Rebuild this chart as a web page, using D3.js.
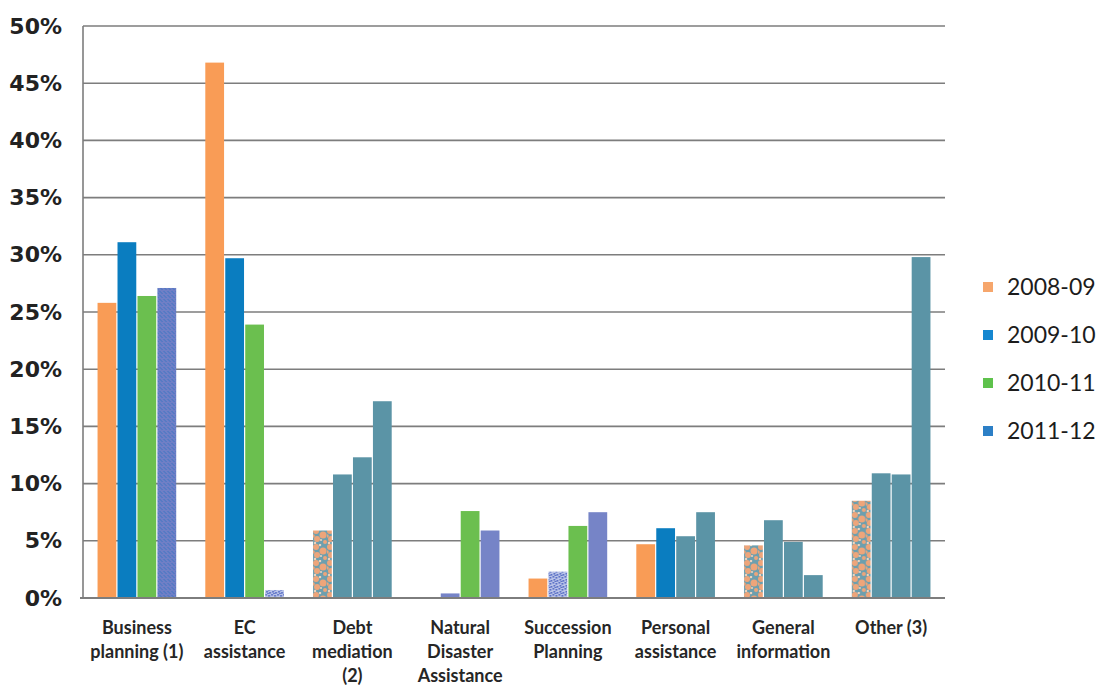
<!DOCTYPE html>
<html>
<head>
<meta charset="utf-8">
<script src="https://cdn.jsdelivr.net/npm/d3@7"></script>
<style>
  html, body { margin: 0; padding: 0; background: #fff; }
  svg { display: block; }
</style>
</head>
<body>
<svg id="chart" width="1108" height="689"></svg>
<script>
// Share of requests by service type, per financial year
const categories = [
  "Business planning (1)", "EC assistance", "Debt mediation (2)",
  "Natural Disaster Assistance", "Succession Planning",
  "Personal assistance", "General information", "Other (3)"
];
const categoryLines = [
  ["Business", "planning (1)"], ["EC", "assistance"], ["Debt", "mediation", "(2)"],
  ["Natural", "Disaster", "Assistance"], ["Succession", "Planning"],
  ["Personal", "assistance"], ["General", "information"], ["Other (3)"]
];
const seriesNames = ["2008-09", "2009-10", "2010-11", "2011-12"];

// values in percent, one array per year, in category order
const v2008 = [25.8, 46.8, 5.9, 0.0, 1.7, 4.7, 4.6, 8.5];
const v2009 = [31.1, 29.7, 10.8, 0.4, 2.3, 6.1, 6.8, 10.9];
const v2010 = [26.4, 23.9, 12.3, 7.6, 6.3, 5.4, 4.9, 10.8];
const v2011 = [27.1, 0.7, 17.2, 5.9, 7.5, 7.5, 2.0, 29.8];

const yTicks = [0, 5, 10, 15, 20, 25, 30, 35, 40, 45, 50];

// fill styles
const ORANGE = "#f99c56", BLUE = "#0a7dc0", GREEN = "#6bbf4f",
      PURPLE = "#7684c7", TEAL = "#5b94a6";
const legendFills = ["#f6a66c", "#1587d0", "#5ec24c", "#2c7fc6"];
const barFills = [
  [ORANGE, BLUE, GREEN, "url(#grainPurple)"],
  [ORANGE, BLUE, GREEN, "url(#speckBlue)"],
  ["url(#speckOrange)", TEAL, TEAL, TEAL],
  [ORANGE, PURPLE, GREEN, PURPLE],
  [ORANGE, "url(#speckBlue)", GREEN, PURPLE],
  [ORANGE, BLUE, TEAL, TEAL],
  ["url(#speckOrange)", TEAL, TEAL, TEAL],
  ["url(#speckOrange)", TEAL, TEAL, TEAL]
];

const svg = d3.select("#chart");
const margin = { left: 83, right: 163, top: 26, bottom: 91 };
const W = 1108, H = 689;
const x0 = margin.left, x1 = W - margin.right;
const yTop = margin.top, yBase = H - margin.bottom;

const x = d3.scaleBand().domain(categories).range([x0, x1])
  .paddingInner(0.27).paddingOuter(0.135);
const xs = d3.scaleBand().domain(seriesNames).range([0, x.bandwidth()])
  .paddingInner(0.06);
const y = d3.scaleLinear().domain([0, 50]).range([yBase, yTop]);

// patterns for the speckled bars
const defs = svg.append("defs");
const so = defs.append("pattern").attr("id", "speckOrange")
  .attr("patternUnits", "userSpaceOnUse").attr("width", 14).attr("height", 16);
so.append("rect").attr("width", 14).attr("height", 16).attr("fill", "#6d9fae");
[[3, 3, 3], [10, 7, 3.5], [4, 11, 3], [12, 14, 2], [0, 8, 1.8]].forEach(([cx, cy, r]) =>
  so.append("circle").attr("cx", cx).attr("cy", cy).attr("r", r).attr("fill", "#eea57a"));
[[7, 1, 1.2], [2, 15, 1.2], [8, 12, 1]].forEach(([cx, cy, r]) =>
  so.append("circle").attr("cx", cx).attr("cy", cy).attr("r", r).attr("fill", "#f3d6bf"));

const sb = defs.append("pattern").attr("id", "speckBlue")
  .attr("patternUnits", "userSpaceOnUse").attr("width", 6).attr("height", 6);
sb.append("rect").attr("width", 6).attr("height", 6).attr("fill", "#b9c3e8");
[[0, 0], [3, 1], [1, 3], [4, 4], [2, 5]].forEach(([a, b]) =>
  sb.append("rect").attr("x", a).attr("y", b).attr("width", 1.6).attr("height", 1.6).attr("fill", "#4a62c0"));

const gp = defs.append("pattern").attr("id", "grainPurple")
  .attr("patternUnits", "userSpaceOnUse").attr("width", 4).attr("height", 4);
gp.append("rect").attr("width", 4).attr("height", 4).attr("fill", "#6f7fc6");
[[0, 1], [2, 3], [3, 0]].forEach(([a, b]) =>
  gp.append("rect").attr("x", a).attr("y", b).attr("width", 1).attr("height", 1).attr("fill", "#3f76c2"));

// gridlines
svg.append("g").selectAll("line").data(yTicks.filter(t => t > 0)).join("line")
  .attr("x1", x0).attr("x2", x1)
  .attr("y1", d => y(d)).attr("y2", d => y(d))
  .attr("stroke", "#7d7d7d").attr("stroke-width", 1.6);

// y axis labels
const yAxis = d3.axisLeft(y).tickValues(yTicks).tickSize(0).tickPadding(21)
  .tickFormat(d => d + "%");
const gy = svg.append("g").attr("transform", `translate(${x0},0)`).call(yAxis);
gy.select(".domain").remove();
gy.selectAll("text")
  .attr("font-family", "DejaVu Sans, sans-serif")
  .attr("font-size", 22).attr("font-weight", "bold").attr("fill", "#222");

// bars
const rows = categories.map((c, i) => ({
  cat: c, i,
  vals: [v2008[i], v2009[i], v2010[i], v2011[i]]
}));
const groups = svg.append("g").selectAll("g").data(rows).join("g")
  .attr("transform", d => `translate(${x(d.cat)},0)`);
groups.selectAll("rect")
  .data(d => d.vals.map((v, j) => ({ v, j, i: d.i })))
  .join("rect")
  .attr("x", d => xs(seriesNames[d.j]))
  .attr("width", xs.bandwidth())
  .attr("y", d => y(d.v))
  .attr("height", d => yBase - y(d.v))
  .attr("fill", d => barFills[d.i][d.j]);

// axis lines
svg.append("line").attr("x1", x0).attr("x2", x0).attr("y1", yTop).attr("y2", yBase)
  .attr("stroke", "#7d7d7d").attr("stroke-width", 1.6);
svg.append("line").attr("x1", x0 - 3).attr("x2", x1).attr("y1", yBase).attr("y2", yBase)
  .attr("stroke", "#7d7d7d").attr("stroke-width", 2);

// category labels
const lab = svg.append("g").selectAll("text").data(rows).join("text")
  .attr("text-anchor", "middle")
  .attr("font-family", "Lato, sans-serif").attr("font-size", 18)
  .attr("font-weight", "bold").attr("fill", "#262626");
lab.selectAll("tspan").data(d => categoryLines[d.i].map(t => ({ t, i: d.i })))
  .join("tspan")
  .attr("x", d => x(categories[d.i]) + x.bandwidth() / 2)
  .attr("y", (d, k) => 634 + k * 24)
  .text(d => d.t);

// legend
const leg = svg.append("g").selectAll("g").data(seriesNames).join("g")
  .attr("transform", (d, k) => `translate(983, ${287 + k * 48})`);
leg.append("rect").attr("x", 0).attr("y", -5).attr("width", 10).attr("height", 10)
  .attr("fill", (d, k) => legendFills[k]);
leg.append("text").attr("x", 24).attr("y", 0).attr("dy", "0.35em")
  .attr("font-family", "Lato, sans-serif").attr("font-size", 23)
  .attr("fill", "#1c1c1c").text(d => d);
</script>
</body>
</html>
